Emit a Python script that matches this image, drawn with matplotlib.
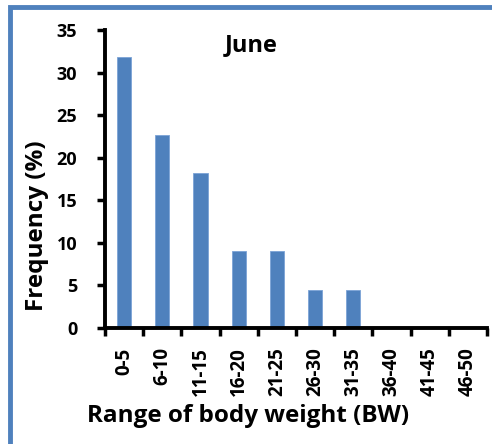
import numpy as np
import matplotlib.pyplot as plt
from matplotlib.patches import Rectangle

# body weight classes and their share of individuals (June)
categories = ["0-5", "6-10", "11-15", "16-20", "21-25",
              "26-30", "31-35", "36-40", "41-45", "46-50"]
frequency = [31.8, 22.7, 18.2, 9.1, 9.1, 4.5, 4.5, 0, 0, 0]

BAR_COLOR = "#4F81BD"
FONT = "Open Sans"

fig = plt.figure(figsize=(4.92, 4.44), dpi=100)
ax = fig.add_axes([105 / 492, 1 - 328 / 444, 382 / 492, 298 / 444])

x = np.arange(len(categories))
ax.bar(x, frequency, width=0.37, color=BAR_COLOR, edgecolor="#7BA3D6", linewidth=0.6)

ax.set_xlim(-0.5, len(categories) - 0.5)
ax.set_ylim(0, 35)
ax.set_yticks(np.arange(0, 36, 5))
ax.set_yticklabels([str(v) for v in range(0, 36, 5)],
                   fontsize=13, fontweight="bold", family=FONT)

# Excel-style ticks sit between categories, labels in the middle
ax.set_xticks(np.arange(-0.5, len(categories)), minor=False)
ax.set_xticklabels([])
ax.set_xticks(x, minor=True)
ax.set_xticklabels(categories, minor=True, rotation=90,
                   fontsize=13.5, fontweight="bold", family=FONT)
ax.tick_params(axis="x", which="minor", length=0, pad=14)
ax.tick_params(axis="x", which="major", length=6, width=2.5, direction="out")
ax.tick_params(axis="y", length=6, width=2.5, direction="out", pad=14)

for side in ("top", "right"):
    ax.spines[side].set_visible(False)
for side in ("left", "bottom"):
    ax.spines[side].set_linewidth(2.8)

ax.text(0.383, 0.95, "June", transform=ax.transAxes, ha="center", va="center",
        fontsize=17, fontweight="bold", family=FONT)

fig.text(37 / 492, 1 - 226 / 444, "Frequency (%)", rotation=90,
         ha="center", va="center", fontsize=17.5, fontweight="bold", family=FONT)
fig.text(248 / 492, 1 - 416 / 444, "Range of body weight (BW)",
         ha="center", va="center", fontsize=17.5, fontweight="bold", family=FONT)

# blue frame around the chart area
fig.patches.append(Rectangle((10 / 492, -0.1), 1.2, 1 - 7 / 444 + 0.1,
                             transform=fig.transFigure, fill=False,
                             edgecolor=BAR_COLOR, linewidth=3.5))

fig.savefig("out.png", dpi=100)
